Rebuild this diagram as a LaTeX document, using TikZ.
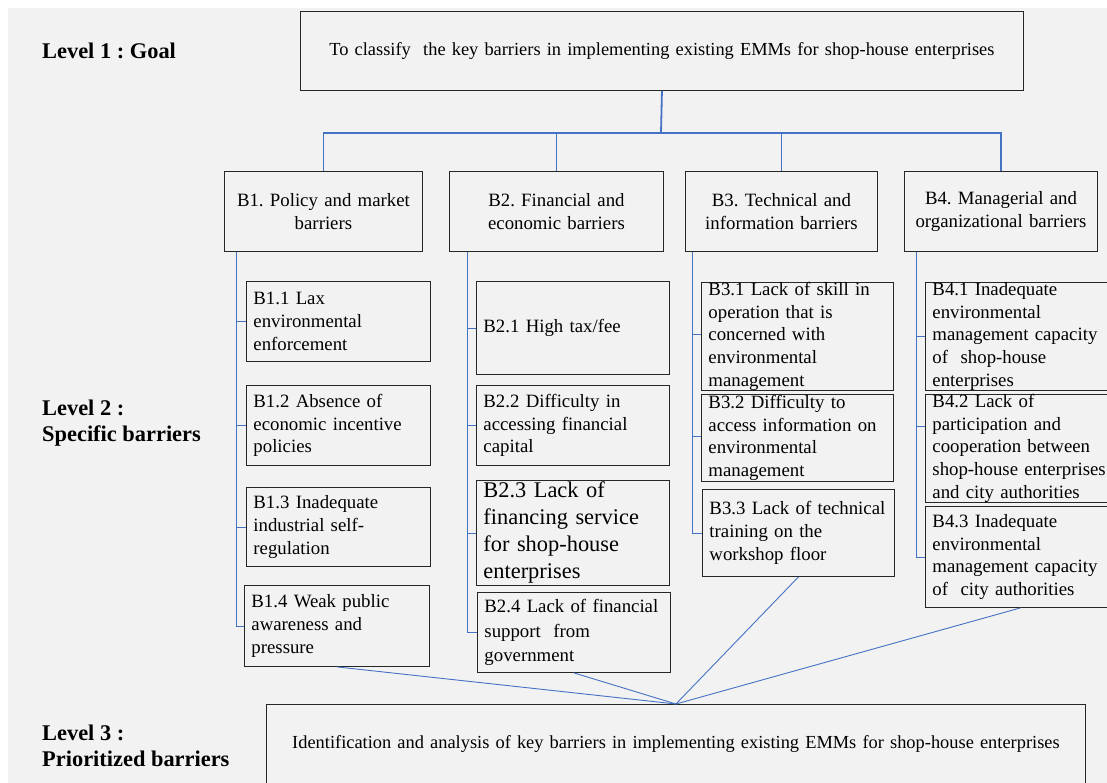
\documentclass[tikz,border=0pt]{standalone}
\usepackage{fontspec}
\setmainfont{Liberation Serif}
\frenchspacing
\definecolor{bgc}{HTML}{F2F2F2}
\definecolor{lnk}{HTML}{4472C4}
\definecolor{bdc}{HTML}{262626}
\begin{document}
\begin{tikzpicture}[x=1pt,y=-1pt,
  box/.style={draw=bdc, line width=0.9pt, inner xsep=7pt, inner ysep=0pt,
    anchor=north west, align=left, font=\fontsize{18.8}{22.6}\selectfont},
  cbox/.style={box, align=center},
  wide/.style={cbox, font=\fontsize{18.4}{22}\selectfont},
  lvl/.style={anchor=west, align=left, inner sep=0pt,
    font=\bfseries\fontsize{22.4}{26.5}\selectfont},
  top/.style={draw=lnk, line width=1.8pt},
  sub/.style={draw=lnk, line width=0.9pt}]
\useasboundingbox (0,0) rectangle (1107,783);
\clip (0,0) rectangle (1107,783);
\fill[bgc] (8,8) rectangle (1107,783);

% level labels
\node[lvl] (l1) at (42,51) {Level 1 : Goal};
\node[lvl] (l2) at (42,423) {Level 2 :\\Specific barriers};
\node[lvl] (l3) at (42,746) {Level 3 :\\Prioritized barriers};

% goal
\node[wide, minimum width=723pt, text width=709pt, minimum height=79pt] (goal) at (300,11)
  {To classify~ the key barriers in implementing existing EMMs for shop-house enterprises};

% level 2 headers
\node[cbox, minimum width=198pt, text width=184pt, minimum height=80pt] (b1) at (224,171) {B1. Policy and market\\barriers};
\node[cbox, minimum width=214pt, text width=200pt, minimum height=80pt] (b2) at (449,171) {B2. Financial and\\economic barriers};
\node[cbox, minimum width=192pt, text width=178pt, minimum height=80pt] (b3) at (685,171) {B3. Technical and\\information barriers};
\node[cbox, minimum width=193pt, text width=179pt, minimum height=80pt] (b4) at (904,171) {B4. Managerial and\\organizational barriers};

% B1 sub-barriers
\node[box, minimum width=184pt, text width=170pt, minimum height=80pt] (b11) at (246,281) {B1.1 Lax\\environmental\\enforcement};
\node[box, minimum width=184pt, text width=170pt, minimum height=80pt] (b12) at (246,385) {B1.2 Absence of\\economic incentive\\policies};
\node[box, minimum width=184pt, text width=170pt, minimum height=79pt] (b13) at (246,487) {B1.3 Inadequate\\industrial self-\\regulation};
\node[box, minimum width=185pt, text width=171pt, minimum height=81pt] (b14) at (244,585) {B1.4 Weak public\\awareness and\\pressure};

% B2 sub-barriers
\node[box, minimum width=193pt, text width=179pt, minimum height=93pt] (b21) at (476,281) {B2.1 High tax/fee};
\node[box, minimum width=193pt, text width=179pt, minimum height=80pt] (b22) at (476,385) {B2.2 Difficulty in\\accessing financial\\capital};
\node[box, minimum width=193pt, text width=179pt, minimum height=105pt,
  font=\fontsize{22.4}{27}\selectfont] (b23) at (476,480) {B2.3 Lack of\\financing service\\for shop-house\\enterprises};
\node[box, minimum width=193pt, text width=179pt, minimum height=80pt,
  font=\fontsize{18.8}{24.5}\selectfont] (b24) at (477,592) {B2.4 Lack of financial\\support~ from\\government};

% B3 sub-barriers
\node[box, minimum width=192pt, text width=178pt, minimum height=107pt] (b31) at (701,282) {B3.1 Lack of skill in\\operation that is\\concerned with\\environmental\\management};
\node[box, minimum width=192pt, text width=178pt, minimum height=87pt] (b32) at (701,394) {B3.2 Difficulty to\\access information on\\environmental\\management};
\node[box, minimum width=192pt, text width=178pt, minimum height=87pt] (b33) at (702,489) {B3.3 Lack of technical\\training on the\\workshop floor};

% B4 sub-barriers
\node[box, minimum width=190pt, text width=176pt, minimum height=108pt] (b41) at (925,282) {B4.1 Inadequate\\environmental\\management capacity\\of~ shop-house\\enterprises};
\node[box, minimum width=190pt, text width=176pt, minimum height=107pt] (b42) at (925,394) {B4.2 Lack of\\participation and\\cooperation between\\shop-house enterprises\\and city authorities};
\node[box, minimum width=190pt, text width=176pt, minimum height=101pt] (b43) at (925,506) {B4.3 Inadequate\\environmental\\management capacity\\of~ city authorities};

% level 3
\node[wide, minimum width=819pt, text width=805pt, minimum height=80pt] (bot) at (266,704)
  {Identification and analysis of key barriers in implementing existing EMMs for shop-house enterprises};

% top connectors
\coordinate (j) at (661,133);
\draw[top] (goal.south) -- (j);
\draw[top] (b1.north) |- (j) -| (b4.north);
\draw[top] (b2.north) -- (b2.north |- j);
\draw[top] (b3.north) -- (b3.north |- j);

% B1 tree
\coordinate (t1) at ([xshift=12pt]b1.south west);
\draw[sub] (t1) |- (b14.west);
\foreach \n in {b11,b12,b13} \draw[sub] (\n.west) -- (\n.west -| t1);
% B2 tree
\coordinate (t2) at ([xshift=18pt]b2.south west);
\draw[sub] (t2) |- (b24.west);
\foreach \n in {b21,b22,b23} \draw[sub] (\n.west) -- (\n.west -| t2);
% B3 tree
\coordinate (t3) at ([xshift=7pt]b3.south west);
\draw[sub] (t3) |- (b33.west);
\foreach \n in {b31,b32} \draw[sub] ([yshift=2pt]\n.west) -- ([yshift=2pt]\n.west -| t3);
% B4 tree
\coordinate (t4) at ([xshift=12pt]b4.south west);
\draw[sub] (t4) |- (b43.west);
\draw[sub] (b41.west) -- (b41.west -| t4);
\draw[sub] ([yshift=22pt]b42.west) -- ([yshift=22pt]b42.west -| t4);

% converging connectors
\foreach \n in {b14,b24,b33,b43} \draw[sub] (\n.south) -- (bot.north);
\end{tikzpicture}
\end{document}
